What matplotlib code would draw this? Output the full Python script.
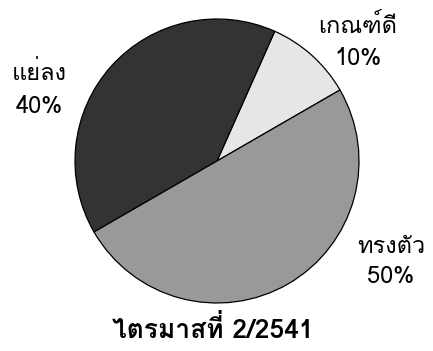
import matplotlib
matplotlib.use("Agg")
import matplotlib.pyplot as plt

plt.rcParams['font.family'] = ['Loma', 'DejaVu Sans']

# ผลสำรวจภาวะธุรกิจ
categories = ['เกณฑ์ดี', 'แย่ลง', 'ทรงตัว']
shares = [10, 40, 50]
colors = ['#e6e6e6', '#333333', '#999999']
title = 'ไตรมาสที่ 2/2541'

W, H = 433, 351
fig = plt.figure(figsize=(W / 100, H / 100), dpi=100)

# pie centre / radius in pixels
cx, cy, r = 217, 161, 142
ax = fig.add_axes([(cx - r) / W, (H - cy - r) / H, 2 * r / W, 2 * r / H])
ax.pie(shares, colors=colors, startangle=30, counterclock=True,
       wedgeprops=dict(edgecolor='black', linewidth=0.9))
ax.set_xlim(-1, 1)
ax.set_ylim(-1, 1)
ax.set_aspect('equal')
ax.axis('off')

# label anchors (px): name baseline, value baseline
label_pos = [(358, 33, 65), (39, 80, 113), (391, 253, 283)]
for name, val, (x, y1, y2) in zip(categories, shares, label_pos):
    fig.text(x / W, 1 - y1 / H, name, ha='center', va='baseline', fontsize=17)
    fig.text(x / W, 1 - y2 / H, f'{val}%', ha='center', va='baseline', fontsize=17)

fig.text(213 / W, 1 - 338 / H, title, ha='center', va='baseline',
         fontsize=19, fontweight='bold')

fig.savefig('out.png', dpi=100)
